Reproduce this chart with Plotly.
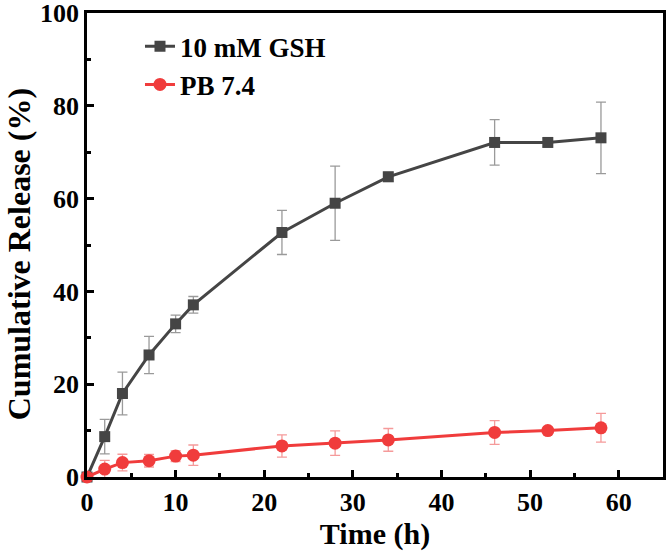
import plotly.graph_objects as go

time_h = [0, 2, 4, 7, 10, 12, 22, 28, 34, 46, 52, 58]
gsh = [0, 8.7, 18.0, 26.3, 33.0, 37.1, 52.7, 59.0, 64.7, 72.1, 72.1, 73.1]
gsh_err = [0, 3.7, 4.6, 4.0, 1.9, 1.8, 4.75, 8.0, 1.0, 4.9, 0.9, 7.7]
pb = [0, 1.7, 3.1, 3.5, 4.5, 4.7, 6.7, 7.3, 8.0, 9.6, 10.0, 10.6]
pb_err = [0, 1.9, 1.8, 1.35, 1.2, 2.2, 2.4, 2.65, 2.45, 2.55, 0.7, 3.1]

FONT = "Liberation Serif"
GRAY = "#454545"
RED = "#f03c3c"

fig = go.Figure()
fig.add_trace(go.Scatter(
    x=time_h, y=gsh, name="10 mM GSH", mode="lines+markers",
    line=dict(color=GRAY, width=3),
    marker=dict(symbol="square", size=11, color=GRAY),
    error_y=dict(type="data", array=gsh_err, color="#9a9a9a", thickness=1.3, width=5),
    cliponaxis=False,
))
fig.add_trace(go.Scatter(
    x=time_h, y=pb, name="PB 7.4", mode="lines+markers",
    line=dict(color=RED, width=3),
    marker=dict(symbol="circle", size=13, color=RED),
    error_y=dict(type="data", array=pb_err, color="#f59a9a", thickness=1.3, width=5),
    cliponaxis=False,
))

axis_common = dict(
    showline=True, linecolor="black", linewidth=2.5, mirror=True,
    ticks="inside", ticklen=7, tickwidth=2.5, tickcolor="black",
    showgrid=False, zeroline=False, automargin=False,
    ticklabeloverflow="allow",
    tickfont=dict(family=FONT, size=26, color="black", weight="bold"),
)
fig.update_xaxes(
    range=[0, 65], tickvals=[0, 10, 20, 30, 40, 50, 60],
    minor=dict(ticks="inside", ticklen=4, tickwidth=2.5, tickcolor="black", dtick=5, tick0=0),
    title=dict(text="Time (h)", font=dict(family=FONT, size=30, color="black", weight="bold"), standoff=4),
    **axis_common,
)
fig.update_yaxes(
    range=[0, 100], tickvals=[0, 20, 40, 60, 80, 100],
    minor=dict(ticks="inside", ticklen=4, tickwidth=2.5, tickcolor="black", dtick=10, tick0=0),
    **axis_common,
)
fig.add_annotation(
    text="Cumulative Release (%)", textangle=-90,
    xref="paper", yref="paper", x=-68 / 576, y=0.48, xanchor="center", yanchor="middle",
    showarrow=False, font=dict(family=FONT, size=32, color="black", weight="bold"),
)
fig.update_layout(
    width=667, height=551,
    margin=dict(l=87, r=4, t=13, b=74),
    plot_bgcolor="white", paper_bgcolor="white",
    showlegend=True,
    legend=dict(
        x=0.092, y=0.98, xanchor="left", yanchor="top",
        font=dict(family=FONT, size=27, color="black", weight="bold"),
        bgcolor="rgba(0,0,0,0)", tracegroupgap=0,
    ),
    font=dict(family=FONT, color="black"),
)
fig.write_html("out.html", config={"displayModeBar": False},
               post_script="document.body.style.margin='0';")
